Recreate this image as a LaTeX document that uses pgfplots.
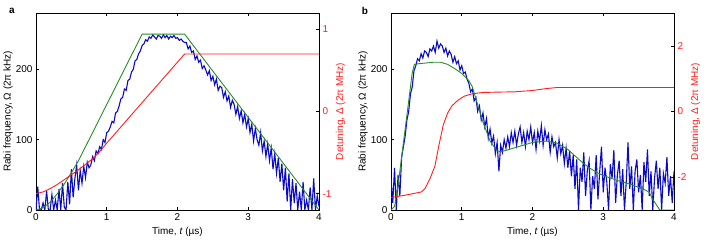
\documentclass[border=0pt]{standalone}
\usepackage{fontspec}
\setmainfont{Liberation Sans}
\usepackage{pgfplots}
\pgfplotsset{compat=1.18}
\definecolor{cblue}{RGB}{10,10,200}
\definecolor{cgreen}{RGB}{40,140,40}
\definecolor{cred}{RGB}{255,30,30}
\pgfplotsset{
  base/.style={width=283bp,height=197bp,scale only axis,
    xmin=0,xmax=4,xtick={0,1,2,3,4},
    tick align=inside, major tick length=3bp,
    axis line style={line width=0.8bp},
    every tick/.style={black,line width=0.6bp},
    tick label style={font=\fontsize{10}{12}\selectfont},
    label style={font=\fontsize{10}{12}\selectfont},
    /pgf/number format/assume math mode=true},
  leftax/.style={base, ymin=0,ymax=280, ytick={0,100,200}, ytick pos=left,
    xlabel={Time, \textit{t} (µs)},
    ylabel={Rabi frequency, Ω (2π kHz)},
    every axis x label/.style={at={(axis description cs:0.5,-0.112)},anchor=center},
    every axis y label/.style={at={(axis description cs:-0.099,0.5)},rotate=90,anchor=center}},
  rightax/.style={base, axis y line*=right, axis x line=none,
    ylabel={Detuning, Δ (2π MHz)},
    yticklabel style={text=cred},
    every axis y label/.style={at={(axis description cs:1.076,0.5)},rotate=90,anchor=center,text=cred}},
}
\begin{document}
\begin{tikzpicture}
\path[use as bounding box] (0,0) rectangle (709bp,247bp);
% ---------------- panel a ----------------
\begin{axis}[leftax, at={(36bp,37bp)}, anchor=south west]
\addplot[cblue, line width=1.1bp] coordinates {
(0.000,0)(0.025,33)(0.050,0)(0.075,0)(0.100,10)(0.125,0)(0.150,27)(0.175,0)(0.200,0)(0.225,22)
(0.250,0)(0.275,14)(0.300,0)(0.325,30)(0.350,0)(0.375,38)(0.400,4)(0.425,0)(0.450,40)(0.475,8)
(0.500,58)(0.525,18)(0.550,45)(0.575,64)(0.600,28)(0.625,56)(0.650,38)(0.675,62)(0.700,46)(0.725,68)
(0.750,60)(0.775,64)(0.800,76)(0.825,70)(0.850,84)(0.875,80)(0.900,90)(0.925,86)(0.950,100)(0.975,96)
(1.000,110)(1.025,112)(1.050,118)(1.075,126)(1.100,124)(1.125,138)(1.150,140)(1.175,148)(1.200,158)(1.225,160)
(1.250,172)(1.275,170)(1.300,184)(1.325,186)(1.350,196)(1.375,200)(1.400,212)(1.425,214)(1.450,222)(1.475,226)
(1.500,234)(1.525,236)(1.550,242)(1.575,240)(1.600,246)(1.625,244)(1.650,249)(1.675,246)(1.700,243)(1.725,248)
(1.750,247)(1.775,244)(1.800,249)(1.825,245)(1.850,248)(1.875,243)(1.900,247)(1.925,245)(1.950,248)(1.975,244)
(2.000,245)(2.025,241)(2.050,243)(2.075,240)(2.100,238)(2.125,238)(2.150,229)(2.175,233)(2.200,224)(2.225,226)
(2.250,214)(2.275,219)(2.300,210)(2.325,213)(2.350,201)(2.375,205)(2.400,199)(2.425,192)(2.450,198)(2.475,184)
(2.500,190)(2.525,178)(2.550,186)(2.575,170)(2.600,176)(2.625,174)(2.650,160)(2.675,168)(2.700,155)(2.725,162)
(2.750,146)(2.775,156)(2.800,150)(2.825,136)(2.850,147)(2.875,130)(2.900,141)(2.925,124)(2.950,136)(2.975,118)
(3.000,130)(3.025,110)(3.050,122)(3.075,98)(3.100,116)(3.125,100)(3.150,92)(3.175,110)(3.200,84)(3.225,98)
(3.250,76)(3.275,94)(3.300,70)(3.325,88)(3.350,58)(3.375,80)(3.400,52)(3.425,74)(3.450,40)(3.475,66)
(3.500,28)(3.525,60)(3.550,12)(3.575,52)(3.600,0)(3.625,44)(3.650,10)(3.675,38)(3.700,0)(3.725,26)
(3.750,0)(3.775,40)(3.800,0)(3.825,14)(3.850,0)(3.875,32)(3.900,0)(3.925,45)(3.950,0)(3.975,20)(4.000,5)
};
\addplot[cgreen, line width=0.9bp] coordinates {
(0,0)(0.1,3)(0.2,11)(0.3,23)(0.4,37)(0.5,53)(0.6,70)(1.5,250)(2.1,250)(4.0,0)
};
\end{axis}
\begin{axis}[rightax, at={(36bp,37bp)}, anchor=south west, ymin=-1.2, ymax=1.2, ytick={-1,0,1}]
\addplot[cred, line width=0.9bp] coordinates {
(0,-1.0)(0.1,-0.98)(0.2,-0.94)(0.3,-0.89)(0.4,-0.83)(0.5,-0.77)(0.6,-0.71)(0.7,-0.645)(0.8,-0.575)(0.9,-0.49)(1.0,-0.385)(2.1,0.70)(4.0,0.70)
};
\end{axis}
\node[font=\bfseries\fontsize{10}{12}\selectfont] at (12bp,236bp) {a};
% ---------------- panel b ----------------
\begin{axis}[leftax, at={(391bp,37bp)}, anchor=south west]
\addplot[cblue, line width=1.1bp] coordinates {
(0.000,45)(0.025,10)(0.050,60)(0.075,0)(0.100,50)(0.125,20)(0.150,75)(0.175,90)(0.200,105)(0.225,128)
(0.250,140)(0.275,165)(0.300,175)(0.325,198)(0.350,205)(0.375,215)(0.400,212)(0.425,222)(0.450,216)(0.475,226)
(0.500,224)(0.525,218)(0.550,229)(0.575,226)(0.600,233)(0.625,224)(0.650,240)(0.675,230)(0.700,236)(0.725,233)
(0.750,224)(0.775,230)(0.800,219)(0.825,226)(0.850,221)(0.875,210)(0.900,218)(0.925,208)(0.950,212)(0.975,199)
(1.000,205)(1.025,194)(1.050,196)(1.075,186)(1.100,180)(1.125,168)(1.150,172)(1.175,155)(1.200,160)(1.225,140)
(1.250,148)(1.275,128)(1.300,138)(1.325,118)(1.350,130)(1.375,102)(1.400,115)(1.425,95)(1.450,105)(1.475,80)
(1.500,96)(1.525,55)(1.550,92)(1.575,82)(1.600,100)(1.625,88)(1.650,104)(1.675,90)(1.700,110)(1.725,96)
(1.750,112)(1.775,92)(1.800,108)(1.825,118)(1.850,96)(1.875,110)(1.900,90)(1.925,112)(1.950,100)(1.975,118)
(2.000,96)(2.025,110)(2.050,86)(2.075,112)(2.100,98)(2.125,120)(2.150,92)(2.175,114)(2.200,100)(2.225,108)
(2.250,82)(2.275,104)(2.300,90)(2.325,96)(2.350,74)(2.375,100)(2.400,80)(2.425,92)(2.450,66)(2.475,88)
(2.500,60)(2.525,84)(2.550,48)(2.575,78)(2.600,30)(2.625,72)(2.650,0)(2.675,60)(2.700,40)(2.725,82)
(2.750,20)(2.775,56)(2.800,70)(2.825,0)(2.850,48)(2.875,30)(2.900,78)(2.925,15)(2.950,55)(2.975,90)
(3.000,25)(3.025,60)(3.050,40)(3.075,0)(3.100,65)(3.125,45)(3.150,85)(3.175,10)(3.200,50)(3.225,70)
(3.250,20)(3.275,58)(3.300,0)(3.325,40)(3.350,96)(3.375,30)(3.400,62)(3.425,0)(3.450,55)(3.475,72)
(3.500,25)(3.525,50)(3.550,0)(3.575,68)(3.600,40)(3.625,86)(3.650,20)(3.675,55)(3.700,0)(3.725,45)
(3.750,70)(3.775,30)(3.800,60)(3.825,0)(3.850,52)(3.875,38)(3.900,75)(3.925,20)(3.950,48)(3.975,10)(4.000,55)
};
\addplot[cgreen, line width=0.9bp] coordinates {
(0,0)(0.05,5)(0.1,35)(0.15,75)(0.2,115)(0.25,155)(0.3,195)(0.33,207)(0.4,208)(0.5,209)(0.6,210)(0.7,210)
(0.8,207)(0.9,201)(1.0,194)(1.1,184)(1.15,175)(1.2,158)(1.3,125)(1.4,98)(1.5,84)(1.55,83)(1.6,84)(1.8,90)
(2.0,96)(2.2,98)(2.35,95)(2.5,86)(2.6,77)(2.7,68)(2.8,60)(2.9,54)(3.0,49)(3.2,42)(3.4,36)(3.6,28)(3.65,25)
(3.7,15)(3.8,0)(4.0,0)
};
\end{axis}
\begin{axis}[rightax, at={(391bp,37bp)}, anchor=south west, ymin=-3, ymax=3, ytick={-2,0,2}]
\addplot[cred, line width=0.9bp] coordinates {
(0,-2.62)(0.2,-2.55)(0.43,-2.45)(0.48,-2.35)(0.55,-2.05)(0.62,-1.67)(0.68,-1.0)(0.74,-0.4)(0.8,-0.05)
(0.86,0.17)(0.95,0.35)(1.04,0.47)(1.15,0.54)(1.3,0.58)(1.5,0.59)(1.75,0.60)(2.0,0.64)(2.2,0.70)(2.35,0.73)(4.0,0.73)
};
\end{axis}
\node[font=\bfseries\fontsize{10}{12}\selectfont] at (365bp,236bp) {b};
\end{tikzpicture}
\end{document}
